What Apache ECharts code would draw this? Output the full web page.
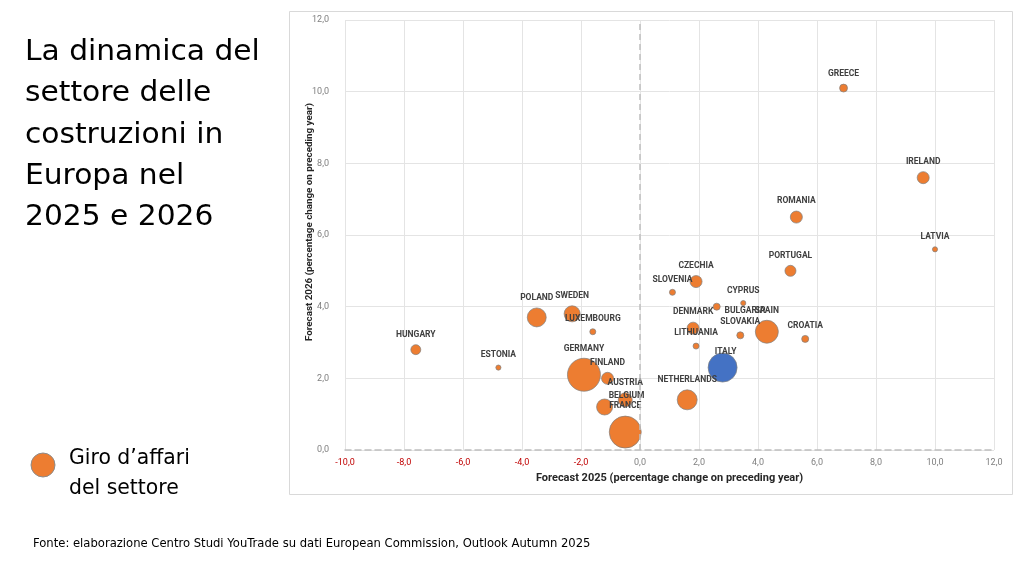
<!DOCTYPE html>
<html>
<head>
<meta charset="utf-8">
<script src="https://cdn.jsdelivr.net/npm/echarts@6/dist/echarts.min.js"></script>
<style>
html,body{margin:0;padding:0;background:#fff;}
#chart{width:1024px;height:576px;}
</style>
</head>
<body>
<div id="chart"></div>
<script>
const countries = ['GREECE','IRELAND','ROMANIA','LATVIA','PORTUGAL','CZECHIA','SLOVENIA','CYPRUS','BULGARIA','DENMARK','SPAIN','SLOVAKIA','CROATIA','LITHUANIA','ITALY','NETHERLANDS','POLAND','SWEDEN','LUXEMBOURG','HUNGARY','ESTONIA','GERMANY','FINLAND','AUSTRIA','BELGIUM','FRANCE'];
const forecast2025 = [6.9,9.6,5.3,10.0,5.1,1.9,1.1,3.5,2.6,1.8,4.3,3.4,5.6,1.9,2.8,1.6,-3.5,-2.3,-1.6,-7.6,-4.8,-1.9,-1.1,-0.5,-1.2,-0.5];
const forecast2026 = [10.1,7.6,6.5,5.6,5.0,4.7,4.4,4.1,4.0,3.4,3.3,3.2,3.1,2.9,2.3,1.4,3.7,3.8,3.3,2.8,2.3,2.1,2.0,1.4,1.2,0.5];
const turnover = [19,44,44,8,37,44,11,8,15,44,160,15,15,11,255,121,109,78,11,30,8,330,44,59,78,310];
const xTicks = {min:-10, max:12, interval:2};
const yTicks = {min:0, max:12, interval:2};
const titleLines = ['La dinamica del','settore delle','costruzioni in','Europa nel','2025 e 2026'];
const legendLines = ['Giro d\u2019affari','del settore'];
const sourceText = 'Fonte: elaborazione Centro Studi YouTrade su dati European Commission, Outlook Autumn 2025';
const xTitle = 'Forecast 2025 (percentage change on preceding year)';
const yTitle = 'Forecast 2026 (percentage change on preceding year)';
const highlight = 'ITALY';

const ORANGE = '#ED7D31', BLUE = '#4472C4';
const labelPos = { BULGARIA: 'right' };
const labelShift = { BELGIUM: [22, 7], ITALY: [3, 9], BULGARIA: [0, 4] };
const fmt = v => v.toFixed(1).replace('.', ',');
const maxT = Math.max(...turnover);

const data = countries.map((c, i) => {
  const item = {
    name: c,
    value: [forecast2025[i], forecast2026[i], turnover[i]],
    itemStyle: {color: c === highlight ? BLUE : ORANGE}
  };
  if (labelPos[c]) item.label = {position: labelPos[c], distance: 4};
  return item;
});

const FONT = '"DejaVu Sans", "Open Sans", sans-serif';
const NARROW = '"Liberation Sans Narrow", Roboto, sans-serif';
const graphics = [
  {type:'rect', shape:{x:289.5, y:11.5, width:723, height:483}, style:{fill:'none', stroke:'#d9d9d9', lineWidth:1}, silent:true}
];
titleLines.forEach((t, i) => {
  graphics.push({type:'text', x:25, y:53 + i*41.3, scaleX:1.08,
    style:{text:t, fill:'#000', font:'400 27.5px ' + FONT, verticalAlign:'middle'}});
});
graphics.push({type:'circle', shape:{cx:43, cy:465, r:12}, style:{fill:ORANGE, stroke:'#8c8c8c', lineWidth:1}});
legendLines.forEach((t, i) => {
  graphics.push({type:'text', x:69, y:459 + i*30, style:{text:t, fill:'#000', font:'400 20.4px ' + FONT, verticalAlign:'middle'}});
});
graphics.push({type:'text', x:33, y:544, style:{text:sourceText, fill:'#000', font:'400 11.6px ' + FONT, verticalAlign:'middle'}});
graphics.push({type:'text', x:310, y:222, rotation:Math.PI/2,
  style:{text:yTitle, fill:'#262626', font:'bold 9.8px ' + NARROW, align:'center', verticalAlign:'middle'}});

const chart = echarts.init(document.getElementById('chart'), null, {renderer:'canvas'});
chart.setOption({
  backgroundColor:'#fff',
  animation:false,
  grid:{left:345, right:30, top:20, bottom:126, containLabel:false},
  xAxis:{
    type:'value', min:xTicks.min, max:xTicks.max, interval:xTicks.interval,
    name:xTitle, nameLocation:'middle', nameGap:23,
    nameTextStyle:{fontFamily:NARROW, fontWeight:'bold', fontSize:11, color:'#262626'},
    axisLine:{show:true, onZero:false, lineStyle:{color:'#bfbfbf', type:[6,4], width:1.5}},
    axisTick:{show:false},
    splitLine:{show:true, lineStyle:{color:'#e4e4e4', width:1}},
    axisLabel:{
      margin:8,
      formatter: v => (v < 0 ? '{neg|' : '{pos|') + fmt(v) + '}',
      rich:{
        neg:{color:'#c00000', fontSize:9, fontFamily:NARROW},
        pos:{color:'#7f7f7f', fontSize:9, fontFamily:NARROW}
      }
    }
  },
  yAxis:{
    type:'value', min:yTicks.min, max:yTicks.max, interval:yTicks.interval,
    axisLine:{show:false},
    axisTick:{show:false},
    splitLine:{show:true, lineStyle:{color:'#e4e4e4', width:1}},
    axisLabel:{margin:16, formatter: fmt, color:'#7f7f7f', fontSize:9, fontFamily:NARROW}
  },
  graphic: graphics,
  series:[{
    type:'scatter',
    data:data,
    symbolSize: v => 33 * Math.sqrt(v[2] / maxT),
    itemStyle:{borderColor:'#7f7f7f', borderWidth:0.7, opacity:1},
    label:{
      show:true, position:'top', distance:5,
      formatter: p => p.name,
      fontFamily:NARROW, fontWeight:'bold', fontSize:8.5, color:'#404040'
    },
    labelLayout: p => {
      const s = labelShift[countries[p.dataIndex]];
      return s ? {dx:s[0], dy:s[1], hideOverlap:false} : {hideOverlap:false};
    },
    markLine:{
      silent:true, symbol:'none', label:{show:false},
      lineStyle:{color:'#bfbfbf', type:[6,4], width:1.5},
      data:[{xAxis:0}]
    },
    z:3
  }]
});
</script>
</body>
</html>
